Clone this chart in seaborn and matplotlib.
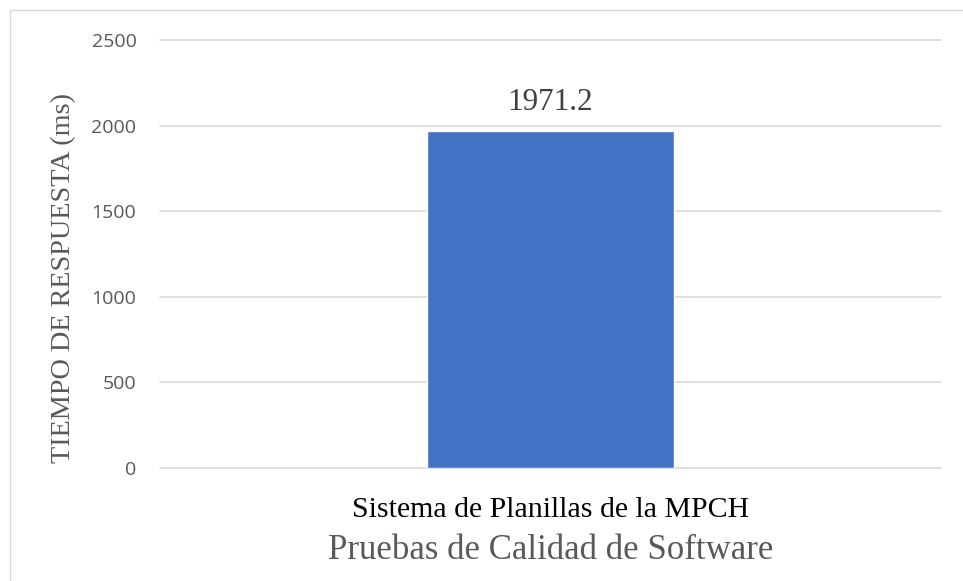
import matplotlib
matplotlib.use("Agg")
import matplotlib.pyplot as plt
import seaborn as sns
import pandas as pd
from matplotlib.lines import Line2D

categories = ["Sistema de Planillas de la MPCH"]
tiempos = [1971.2]
yticks = [0, 500, 1000, 1500, 2000, 2500]

sns.set_theme(style="white")
plt.rcParams["font.family"] = ["Liberation Serif", "DejaVu Serif"]

df = pd.DataFrame({"sistema": categories, "tiempo": tiempos})

fig = plt.figure(figsize=(9.63, 5.81), dpi=100)
ax = fig.add_axes([160 / 963, 1 - 468 / 581, 781 / 963, 428 / 581])

sns.barplot(data=df, x="sistema", y="tiempo", color="#4472C4", width=0.315,
            saturation=1, ax=ax, zorder=3)

ax.set_ylim(0, 2500)
ax.set_xlim(-0.5, 0.5)
ax.set_yticks(yticks)
ax.set_yticklabels([str(t) for t in yticks], family=["Open Sans", "DejaVu Sans"],
                   fontsize=14, color="#595959")
ax.tick_params(axis="y", length=0, pad=17)
ax.tick_params(axis="x", length=0, pad=21)
ax.set_xticks([0])
ax.set_xticklabels(categories, fontsize=21.5, color="black")
ax.grid(axis="y", color="#d9d9d9", linewidth=1.2, zorder=0)
for gl in ax.get_ygridlines():
    gl.set_clip_on(False)
ax.set_axisbelow(True)
for s in ax.spines.values():
    s.set_visible(False)

ax.set_xlabel("Pruebas de Calidad de Software", fontsize=25, color="#595959", labelpad=8)
ax.set_ylabel("TIEMPO DE RESPUESTA (ms)", fontsize=20.3, color="#595959")
ax.yaxis.set_label_coords(-(160 - 76) / 781, (468 - 278) / 428)

for c in ax.containers:
    ax.bar_label(c, labels=[f"{v}" for v in tiempos], fontsize=22.5, color="#404040", padding=9.5)

# borde del grafico (solo arriba e izquierda visibles)
fig.lines.append(Line2D([10 / 963, 10 / 963, 1], [0, 1 - 10 / 581, 1 - 10 / 581],
                        transform=fig.transFigure, color="#d9d9d9", linewidth=1))

fig.savefig("out.png", dpi=100)
